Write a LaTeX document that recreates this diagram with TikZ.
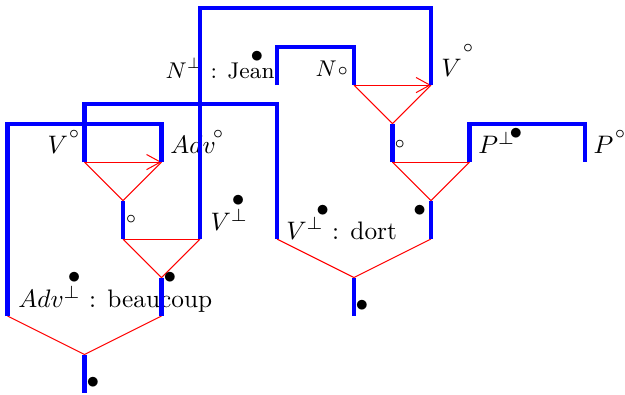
\documentclass[tikz,border=0pt]{standalone}
\usepackage{amsmath}
\usepackage{amssymb}
\usepackage{tikz}
\usetikzlibrary{arrows.meta,positioning}
\tikzset{
  wire/.style    = {blue, ultra thick},
  link/.style    = {red, thin},
  linkarr/.style = {red, thin, -{Straight Barb[length=5.5pt, width=6pt]}},
  lbl/.style     = {inner sep=0pt, anchor=base west},
  dotmark/.style = {inner sep=0pt}
}

\begin{document}
\begin{tikzpicture}[x=0.535cm, y=0.535cm]
  \useasboundingbox (-0.195,-0.026) rectangle (16.04,10.21);

  % left sentence part
  \coordinate (vin)     at (2,6);
  \coordinate (advin)   at (4,6);
  \coordinate (m1)      at (3,5);
  \coordinate (m1b)     at (3,4);
  \coordinate (vperp)   at (5,4);
  \coordinate (m2)      at (4,3);
  \coordinate (m2b)     at (4,2);
  \coordinate (advperp) at (0,2);
  \coordinate (root1)   at (2,1);
  \coordinate (end1)    at (2,0);
  % right sentence part
  \coordinate (njean)   at (7,8);
  \coordinate (nin)     at (9,8);
  \coordinate (vtop)    at (11,8);
  \coordinate (m3)      at (10,7);
  \coordinate (m3b)     at (10,6);
  \coordinate (pperp)   at (12,6);
  \coordinate (pin)     at (15,6);
  \coordinate (m4)      at (11,5);
  \coordinate (m4b)     at (11,4);
  \coordinate (dort)    at (7,4);
  \coordinate (m5)      at (9,3);
  \coordinate (end2)    at (9,2);

  % red links
  \draw[linkarr] (vin) -- (advin);
  \draw[link] (vin) -- (m1) -- (advin);
  \draw[link] (m1b) -- (vperp);
  \draw[link] (m1b) -- (m2) -- (vperp);
  \draw[link] (advperp) -- (root1) -- (m2b);
  \draw[linkarr] (nin) -- (vtop);
  \draw[link] (nin) -- (m3) -- (vtop);
  \draw[link] (m3b) -- (pperp);
  \draw[link] (m3b) -- (m4) -- (pperp);
  \draw[link] (dort) -- (m5) -- (m4b);

  % labels
  \node[lbl, anchor=base east, font=\small] (jean) at (6.95,8.18) {$N^{\perp}$ : Jean};
  \node[lbl, font=\small] (nlab) at (7.99,8.23) {$N$};
  \node[lbl] (vlabr)   at (11.26,8.23) {$V$};
  \node[lbl] (vlabl)   at (1.03,6.21)  {$V$};
  \node[lbl] (advlab)  at (4.22,6.21)  {$Adv$};
  \node[lbl] (vplab)   at (5.26,4.21)  {$V^{\perp}$};
  \node[lbl] (dortlab) at (7.23,4.0)   {$V^{\perp}$ : dort};
  \node[lbl] (pplab)   at (12.22,6.21) {$P^{\perp}$};
  \node[lbl] (plab)    at (15.21,6.21) {$P$};
  \node[lbl] (beaulab) at (0.27,2.21)  {$Adv^{\perp}$ : beaucoup};

  % circles
  \node[dotmark, font=\scriptsize] (c1) at (8.71,8.36)  {$\circ$};
  \node[dotmark, font=\scriptsize] (c2) at (11.96,8.96) {$\circ$};
  \node[dotmark, font=\scriptsize] (c3) at (1.73,6.73)  {$\circ$};
  \node[dotmark, font=\scriptsize] (c4) at (5.47,6.73)  {$\circ$};
  \node[dotmark, font=\scriptsize] (c5) at (3.21,4.52)  {$\circ$};
  \node[dotmark, font=\scriptsize] (c6) at (10.19,6.47) {$\circ$};
  \node[dotmark, font=\scriptsize] (c7) at (15.91,6.73) {$\circ$};

  % bullets
  \node[dotmark] (b1) at (6.48,8.73) {$\bullet$};
  \node[dotmark] (b2) at (5.99,4.99) {$\bullet$};
  \node[dotmark] (b3) at (8.19,4.73) {$\bullet$};
  \node[dotmark] (b4) at (10.71,4.73) {$\bullet$};
  \node[dotmark] (b5) at (13.21,6.73) {$\bullet$};
  \node[dotmark] (b6) at (9.21,2.26) {$\bullet$};
  \node[dotmark] (b7) at (1.73,2.99) {$\bullet$};
  \node[dotmark] (b8) at (4.22,2.99) {$\bullet$};
  \node[dotmark] (b9) at (2.22,0.26) {$\bullet$};

  % blue wires
  \draw[wire] (advperp) -- ++(0,5) -| (advin);
  \draw[wire] (vin) -- ++(0,1.5) -| (dort);
  \draw[wire] (vperp) -- ++(0,6) -| (vtop);
  \draw[wire] (njean) -- ++(0,1) -| (nin);
  \draw[wire] (pperp) -- ++(0,1) -| (pin);
  \draw[wire] (m1) -- (m1b);
  \draw[wire] (m2) -- (m2b);
  \draw[wire] (root1) -- (end1);
  \draw[wire] (m3) -- (m3b);
  \draw[wire] (m4) -- (m4b);
  \draw[wire] (m5) -- (end2);
\end{tikzpicture}
\end{document}
